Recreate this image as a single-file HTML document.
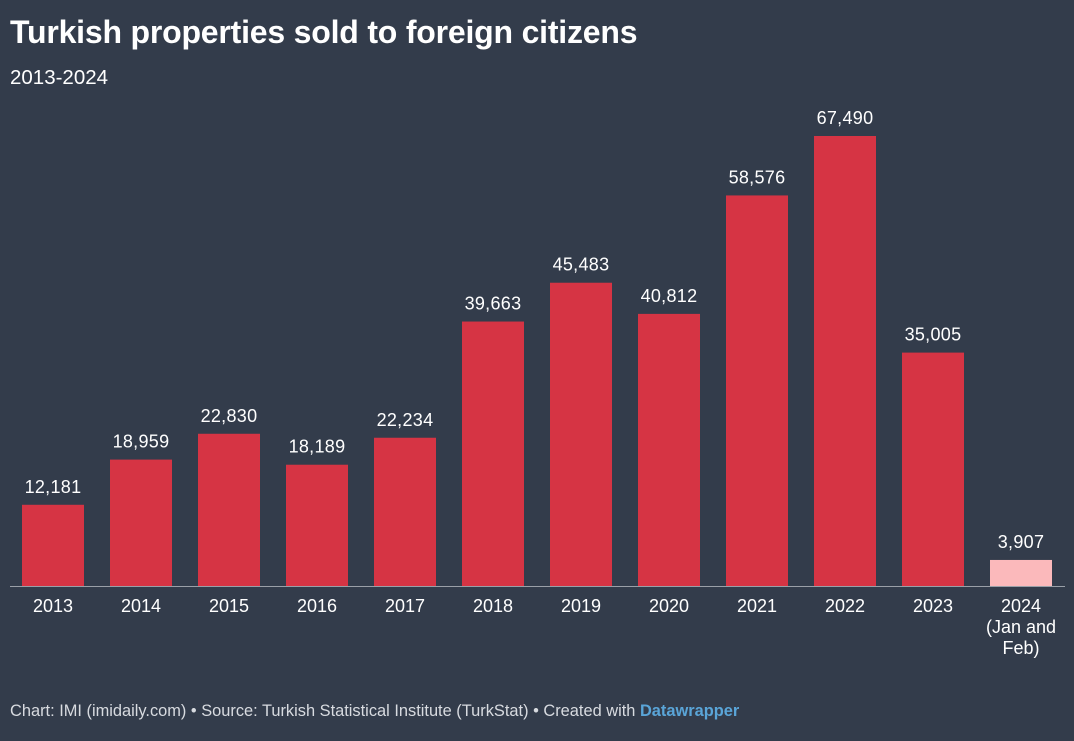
<!DOCTYPE html>
<html><head><meta charset="utf-8"><style>
body{margin:0;background:#333c4b;width:1074px;height:741px;overflow:hidden;font-family:"Liberation Sans",sans-serif;color:#fff}
#t{position:absolute;left:10px;top:14px;font-size:32px;font-weight:bold;letter-spacing:-0.2px}
#s{position:absolute;left:10px;top:66px;font-size:20.5px}
#f{position:absolute;left:10px;top:702px;font-size:16.4px;color:#d8dbe0}
#f b{color:#5aa5d8}
svg{position:absolute;left:0;top:0}
</style></head><body>
<div id="t">Turkish properties sold to foreign citizens</div>
<div id="s">2013-2024</div>
<svg id="c" width="1074" height="741"></svg>
<div id="f">Chart: IMI (imidaily.com) • Source: Turkish Statistical Institute (TurkStat) • Created with <b>Datawrapper</b></div>
<script>
const categories=["2013","2014","2015","2016","2017","2018","2019","2020","2021","2022","2023","2024"];
const catLines=[["2013"],["2014"],["2015"],["2016"],["2017"],["2018"],["2019"],["2020"],["2021"],["2022"],["2023"],["2024","(Jan and","Feb)"]];
const values=[12181,18959,22830,18189,22234,39663,45483,40812,58576,67490,35005,3907];
const partial=[false,false,false,false,false,false,false,false,false,false,false,true];
const NS="http://www.w3.org/2000/svg";
const svg=document.getElementById('c');
const base=586, k=450/67490;
const y=v=>base-v*k;
const x=i=>22+i*88;
const bw=62;
function mk(t,a){const e=document.createElementNS(NS,t);for(const n in a)e.setAttribute(n,a[n]);svg.appendChild(e);return e;}
values.forEach((v,i)=>{
 const r=mk('rect',{x:x(i),y:y(v),width:bw,height:base-y(v),fill:partial[i]?'#fbb9bb':'#d63444'});
 
 
 const l=mk('text',{x:x(i)+bw/2,y:y(v)-12,'text-anchor':'middle','font-size':18,'letter-spacing':0.3,fill:'#fff','font-family':'Liberation Sans'});
 l.textContent=v.toLocaleString('en-US');
 
 
 catLines[i].forEach((s,j)=>{
  const c=mk('text',{x:x(i)+bw/2,y:612+j*21,'text-anchor':'middle','font-size':18,fill:'#fff','font-family':'Liberation Sans'});
  c.textContent=s;
  
  
 });
});
const ax=mk('line',{x1:10,x2:1065,y1:base+0.5,y2:base+0.5,stroke:'#9aa0a8','stroke-width':1});


</script>
</body></html>
